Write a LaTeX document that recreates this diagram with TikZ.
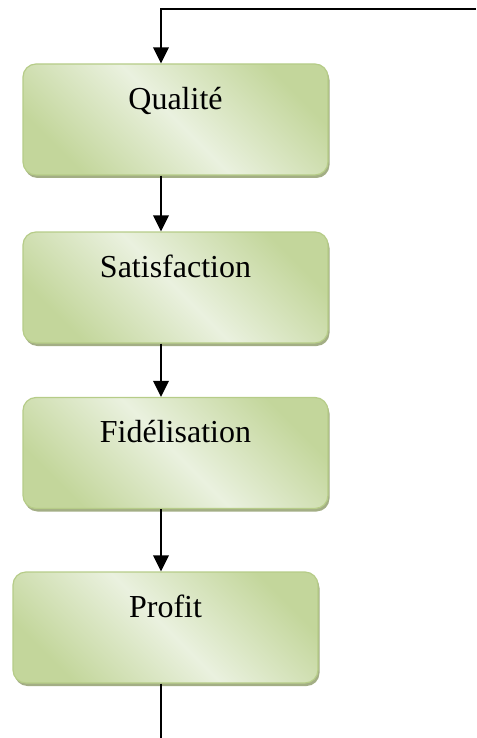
\documentclass[tikz,border=0pt]{standalone}
\usepackage{fontspec}
\setmainfont{Liberation Serif}
\usetikzlibrary{arrows.meta,shadows}
\definecolor{boxdark}{HTML}{C3D69B}
\definecolor{boxlight}{HTML}{EAF1DF}
\definecolor{boxedge}{HTML}{B6CC88}
\definecolor{boxshade}{HTML}{A3AE85}
\tikzset{
  stage/.style={draw=boxedge, line width=1.2pt, rounded corners=13pt,
    minimum width=305pt, minimum height=111pt, inner sep=0pt,
    top color=boxdark, bottom color=boxdark, middle color=boxlight,
    shading angle=-45,
    drop shadow={shadow xshift=1.5pt, shadow yshift=-3pt, fill=boxshade, opacity=1}},
  caption/.style={anchor=base, inner sep=0pt, font=\fontsize{32}{37}\selectfont},
  flow/.style={line width=2pt, -{Triangle[length=16pt,width=15.5pt]}},
  plain/.style={line width=2pt}
}
\begin{document}
\begin{tikzpicture}[x=1pt,y=-1pt]
\useasboundingbox (0,0) rectangle (476,738);
% the four stages, top to bottom
\node[stage] (q) at (175.5,119.5) {};
\node[stage] (s) at (175.5,287.5) {};
\node[stage] (f) at (175.5,453) {};
\node[stage] (p) at (165.5,627.5) {};
\node[caption] at ([yshift=-46pt]q.north) {Qualité};
\node[caption] at ([yshift=-46pt]s.north) {Satisfaction};
\node[caption] at ([yshift=-46pt]f.north) {Fidélisation};
\node[caption] at ([yshift=-46pt]p.north) {Profit};
% feedback loop coming back from the right edge
\coordinate (back) at (476,9);
\coordinate (out) at (161,738);
\draw[flow] (back) -- (161,9) -- (161,0 |- q.north);
\draw[flow] (161,0 |- q.south) -- (161,0 |- s.north);
\draw[flow] (161,0 |- s.south) -- (161,0 |- f.north);
\draw[flow] (161,0 |- f.south) -- (161,0 |- p.north);
\draw[plain] (161,0 |- p.south) -- (out);
\end{tikzpicture}
\end{document}
